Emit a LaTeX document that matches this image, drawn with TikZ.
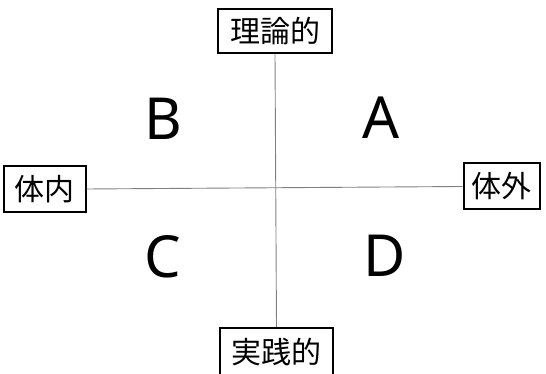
\documentclass[tikz,border=0pt]{standalone}
\usepackage{fontspec}
\newfontfamily\jp{Noto Sans CJK JP}
\newfontfamily\lat{Noto Sans}
\begin{document}
\begin{tikzpicture}[x=1pt,y=-1pt,
  lbl/.style={draw=black,line width=2pt,inner sep=0pt,font=\jp\fontsize{30}{32}\selectfont},
  quad/.style={font=\lat\fontsize{58}{60}\selectfont,inner sep=0pt},
  axis/.style={draw=gray,line width=0.9pt}]
\useasboundingbox (0,0) rectangle (546,374);
\begin{scope}
\clip (0,0) rectangle (546,374);
\node[lbl,minimum width=114pt,minimum height=44pt] (top) at (275,31) {理論的};
\node[lbl,minimum width=113pt,minimum height=48pt] (bot) at (276.5,352) {実践的};
\node[lbl,minimum width=82pt,minimum height=46pt] (left) at (44.5,189) {体内};
\node[lbl,minimum width=76pt,minimum height=46pt] (right) at (501.5,186.5) {体外};
\draw[axis] (top.south) -- (bot.north);
\draw[axis] (left.east) -- (right.west);
\node[quad] (A) at (381,118) {A};
\node[quad] (B) at (163,119) {B};
\node[quad] (C) at (163,257) {C};
\node[quad] (D) at (385,256) {D};
\end{scope}
\end{tikzpicture}
\end{document}
